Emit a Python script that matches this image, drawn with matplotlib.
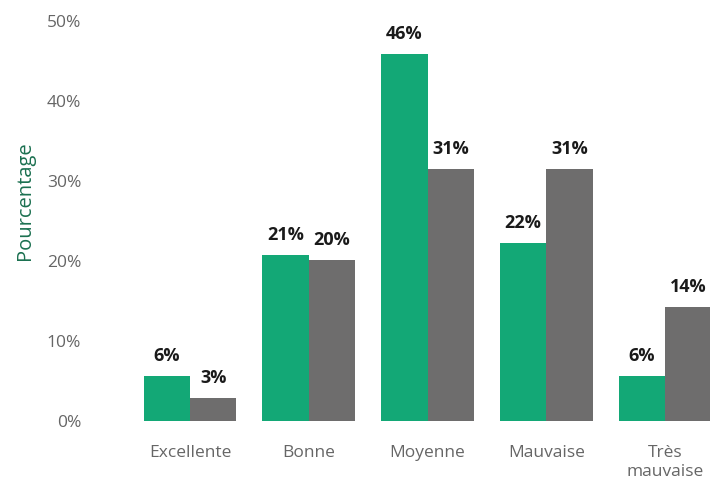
import matplotlib
matplotlib.use("Agg")
import matplotlib.pyplot as plt
import numpy as np

categories = ["Excellente", "Bonne", "Moyenne", "Mauvaise", "Très\nmauvaise"]
serie_a = [5.6, 20.8, 45.9, 22.3, 5.6]
serie_b = [2.9, 20.1, 31.5, 31.5, 14.3]
labels_a = ["6%", "21%", "46%", "22%", "6%"]
labels_b = ["3%", "20%", "31%", "31%", "14%"]
yticks = [0, 10, 20, 30, 40, 50]
ytick_labels = ["0%", "10%", "20%", "30%", "40%", "50%"]

plt.rcParams['font.family'] = ['Open Sans', 'DejaVu Sans']

W, H = 710, 488
fig = plt.figure(figsize=(W / 100, H / 100), dpi=100)
ax_left, ax_right = 95, 710
ax_bottom, ax_top = 421, 21
ax = fig.add_axes([ax_left / W, (H - ax_bottom) / H, (ax_right - ax_left) / W, (ax_bottom - ax_top) / H])

green = "#13a876"
gray = "#6e6d6d"
w = 0.39
x = np.arange(len(categories))
ba = ax.bar(x - w / 2, serie_a, width=w, color=green)
bb = ax.bar(x + w / 2, serie_b, width=w, color=gray)

for bars, labs in ((ba, labels_a), (bb, labels_b)):
    for rect, lab in zip(bars, labs):
        ax.annotate(lab, (rect.get_x() + rect.get_width() / 2, rect.get_height()),
                    xytext=(0, 11), textcoords="offset pixels", ha="center", va="bottom",
                    fontsize=13, fontweight="bold", color="#1a1a1a", annotation_clip=False)

px = 118.75
x0 = 190
ax.set_xlim((ax_left - x0) / px, (ax_right - x0) / px)
ax.set_ylim(0, 50)
ax.set_yticks(yticks)
ax.set_yticklabels(ytick_labels)
ax.set_xticks(x)
ax.set_xticklabels(categories, linespacing=1.25, va="top")
ax.tick_params(axis="both", length=0, colors="#666666", labelsize=12.5)
ax.tick_params(axis="y", pad=10)
ax.tick_params(axis="x", pad=17)
for s in ax.spines.values():
    s.set_visible(False)

fig.text(25 / W, 1 - 201 / H, "Pourcentage", rotation=90, ha="center", va="center",
         color="#1b7050", fontsize=14.5)

fig.savefig("out.png", dpi=100)
